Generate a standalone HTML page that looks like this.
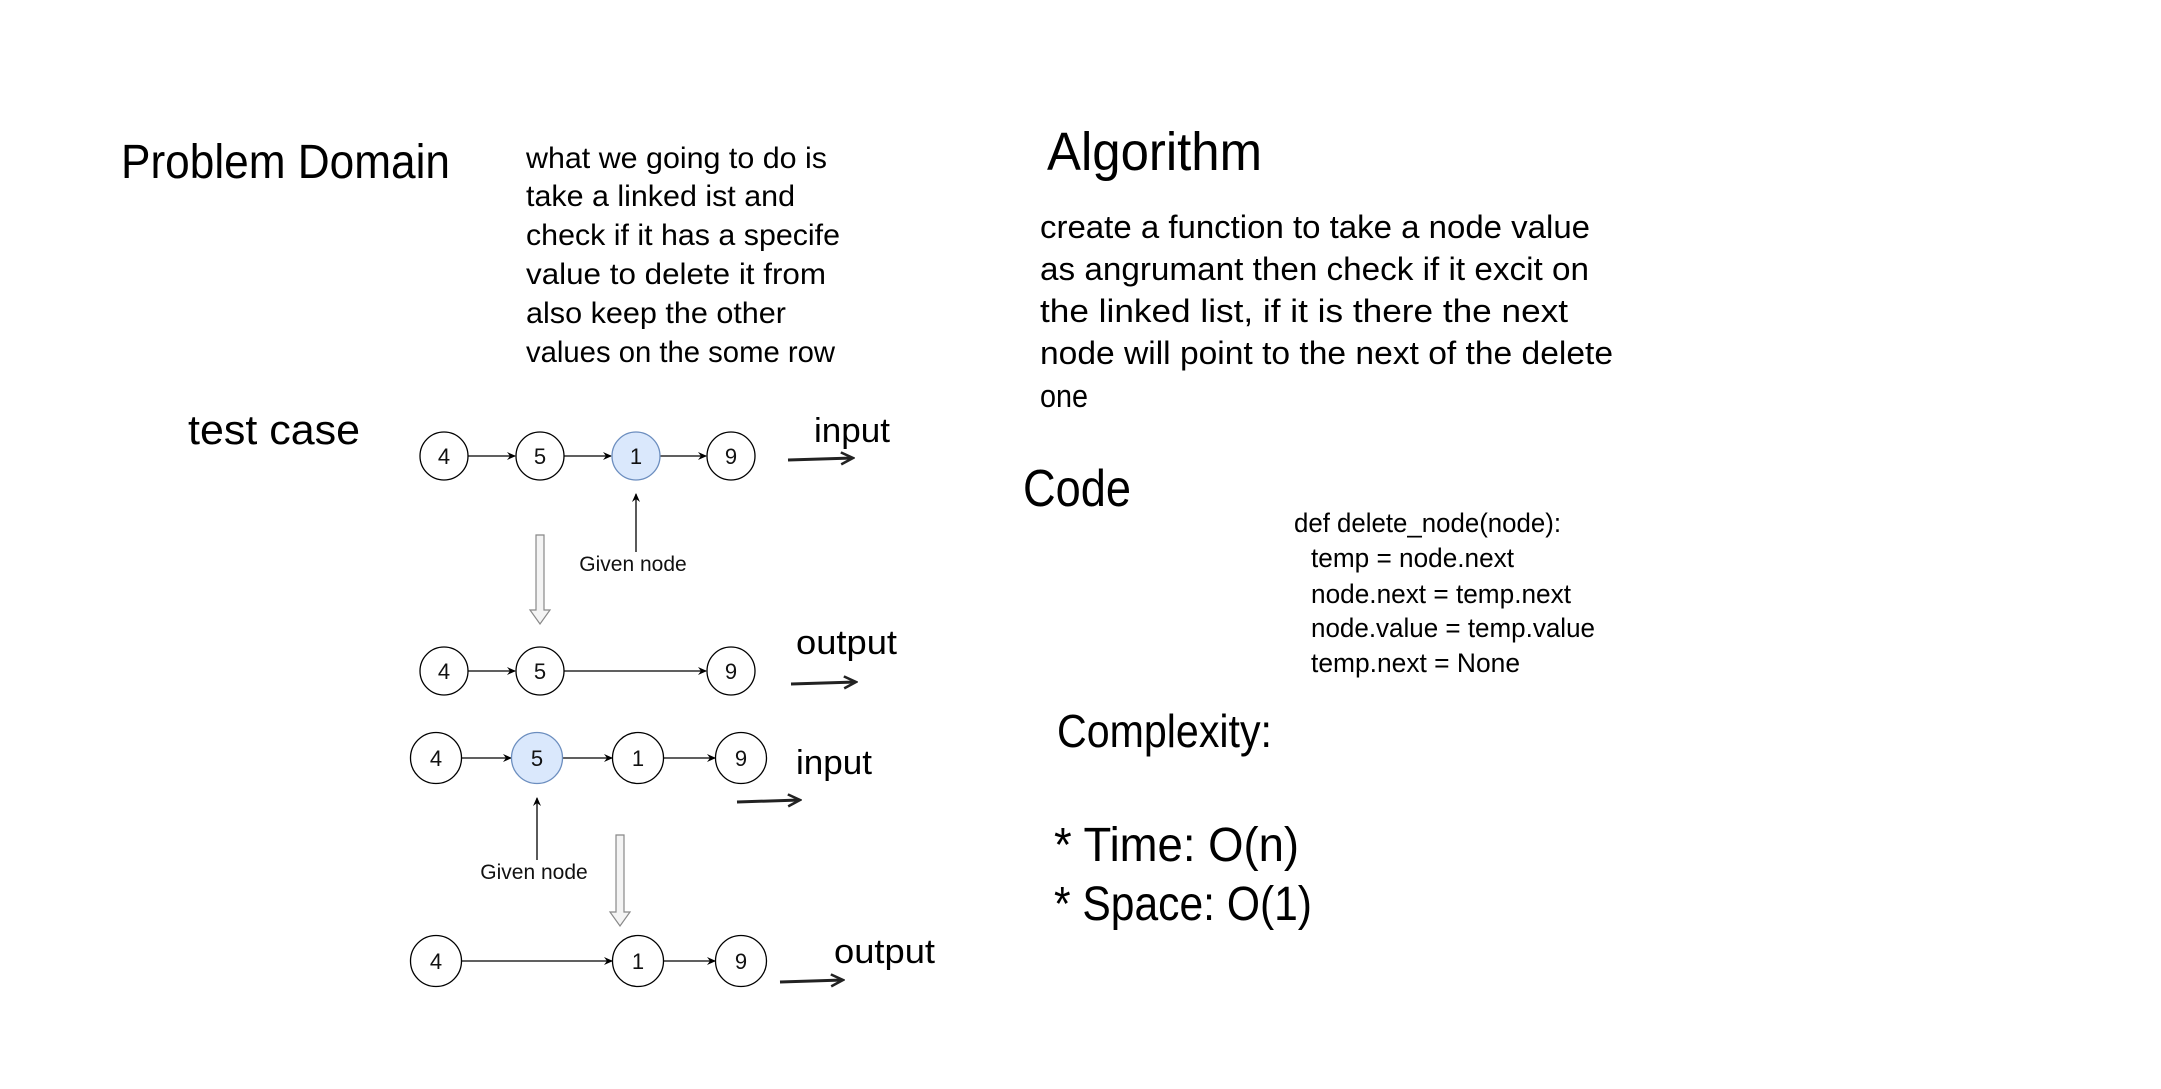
<!DOCTYPE html>
<html><head><meta charset="utf-8"><style>
html,body{margin:0;padding:0;background:#fff;}
svg{display:block;}
.h{font-family:"Liberation Sans",sans-serif;fill:#000;}
.n{font-family:"Liberation Sans",sans-serif;font-size:22px;fill:#111;text-anchor:middle;}
</style></head><body>
<svg width="2161" height="1089" viewBox="0 0 2161 1089" xmlns="http://www.w3.org/2000/svg">
<defs>
<marker id="a" markerWidth="10" markerHeight="10" refX="8" refY="5" orient="auto" markerUnits="userSpaceOnUse"><path d="M0,1 L9,5 L0,9 L3,5 Z" fill="#000"/></marker>
<marker id="b" markerWidth="16" markerHeight="14" refX="14" refY="7" orient="auto" markerUnits="userSpaceOnUse"><path d="M2,1 L14,7 L2,13" fill="none" stroke="#222" stroke-width="2.5"/></marker>
</defs>
<g transform="translate(-3,-2)">
<g class="h">
<text x="124" y="180" font-size="48" textLength="329" lengthAdjust="spacingAndGlyphs">Problem Domain</text>
<g font-size="30">
<text x="529" y="170" textLength="301" lengthAdjust="spacingAndGlyphs">what we going to do is</text>
<text x="529" y="208" textLength="269" lengthAdjust="spacingAndGlyphs">take a linked ist and</text>
<text x="529" y="247" textLength="314" lengthAdjust="spacingAndGlyphs">check if it has a specife</text>
<text x="529" y="286" textLength="300" lengthAdjust="spacingAndGlyphs">value to delete it from</text>
<text x="529" y="325" textLength="260" lengthAdjust="spacingAndGlyphs">also keep the other</text>
<text x="529" y="364" textLength="309" lengthAdjust="spacingAndGlyphs">values on the some row</text>
</g>
<text x="1050" y="172" font-size="54" textLength="215" lengthAdjust="spacingAndGlyphs">Algorithm</text>
<g font-size="32">
<text x="1043" y="240" textLength="550" lengthAdjust="spacingAndGlyphs">create a function to take a node value</text>
<text x="1043" y="282" textLength="549" lengthAdjust="spacingAndGlyphs">as angrumant then check if it excit on</text>
<text x="1043" y="324" textLength="528" lengthAdjust="spacingAndGlyphs">the linked list, if it is there the next</text>
<text x="1043" y="366" textLength="573" lengthAdjust="spacingAndGlyphs">node will point to the next of the delete</text>
<text x="1043" y="409" textLength="48" lengthAdjust="spacingAndGlyphs">one</text>
</g>
<text x="191" y="446" font-size="42" textLength="172" lengthAdjust="spacingAndGlyphs">test case</text>
<text x="1026" y="508" font-size="52" textLength="108" lengthAdjust="spacingAndGlyphs">Code</text>
<g font-size="27">
<text x="1297" y="534" textLength="267" lengthAdjust="spacingAndGlyphs">def delete_node(node):</text>
<text x="1314" y="569" textLength="203" lengthAdjust="spacingAndGlyphs">temp = node.next</text>
<text x="1314" y="605" textLength="260" lengthAdjust="spacingAndGlyphs">node.next = temp.next</text>
<text x="1314" y="639" textLength="284" lengthAdjust="spacingAndGlyphs">node.value = temp.value</text>
<text x="1314" y="674" textLength="209" lengthAdjust="spacingAndGlyphs">temp.next = None</text>
</g>
<text x="1060" y="749" font-size="46" textLength="215" lengthAdjust="spacingAndGlyphs">Complexity:</text>
<text x="1057" y="863" font-size="48" textLength="245" lengthAdjust="spacingAndGlyphs">* Time: O(n)</text>
<text x="1057" y="922" font-size="48" textLength="258" lengthAdjust="spacingAndGlyphs">* Space: O(1)</text>
<text x="817" y="444" font-size="34" textLength="76" lengthAdjust="spacingAndGlyphs">input</text>
<text x="799" y="656" font-size="34" textLength="101" lengthAdjust="spacingAndGlyphs">output</text>
<text x="799" y="776" font-size="34" textLength="76" lengthAdjust="spacingAndGlyphs">input</text>
<text x="837" y="965" font-size="34" textLength="101" lengthAdjust="spacingAndGlyphs">output</text>
</g>
<g stroke="#222" stroke-width="3" fill="none" marker-end="url(#b)">
<line x1="791" y1="462" x2="856" y2="460"/>
<line x1="794" y1="686" x2="859" y2="684"/>
<line x1="740" y1="804" x2="803" y2="802"/>
<line x1="783" y1="984" x2="846" y2="982"/>
</g>
<g stroke="#000" stroke-width="1.3" marker-end="url(#a)">
<line x1="471" y1="458" x2="518" y2="458"/>
<line x1="567" y1="458" x2="614" y2="458"/>
<line x1="663" y1="458" x2="709" y2="458"/>
<line x1="471" y1="673" x2="518" y2="673"/>
<line x1="567" y1="673" x2="709" y2="673"/>
<line x1="465" y1="760" x2="514" y2="760"/>
<line x1="566" y1="760" x2="615" y2="760"/>
<line x1="667" y1="760" x2="718" y2="760"/>
<line x1="465" y1="963" x2="615" y2="963"/>
<line x1="667" y1="963" x2="718" y2="963"/>
<line x1="639" y1="554" x2="639" y2="496"/>
<line x1="540" y1="862" x2="540" y2="800"/>
</g>
<path d="M539,537 H547 V612 H553 L543,626 L533,612 H539 Z" fill="#f4f4f4" stroke="#888" stroke-width="1.2"/>
<path d="M619,837 H627 V914 H633 L623,928 L613,914 H619 Z" fill="#f4f4f4" stroke="#888" stroke-width="1.2"/>
<g stroke="#000" stroke-width="1.3" fill="#fff">
<circle cx="447" cy="458" r="24"/><circle cx="543" cy="458" r="24"/><circle cx="639" cy="458" r="24" fill="#dae8fc" stroke="#6c8ebf"/><circle cx="734" cy="458" r="24"/>
<circle cx="447" cy="673" r="24"/><circle cx="543" cy="673" r="24"/><circle cx="734" cy="673" r="24"/>
<circle cx="439" cy="760" r="25.5"/><circle cx="540" cy="760" r="25.5" fill="#dae8fc" stroke="#6c8ebf"/><circle cx="641" cy="760" r="25.5"/><circle cx="744" cy="760" r="25.5"/>
<circle cx="439" cy="963" r="25.5"/><circle cx="641" cy="963" r="25.5"/><circle cx="744" cy="963" r="25.5"/>
</g>
<g class="n">
<text x="447" y="466">4</text><text x="543" y="466">5</text><text x="639" y="466">1</text><text x="734" y="466">9</text>
<text x="447" y="681">4</text><text x="543" y="681">5</text><text x="734" y="681">9</text>
<text x="439" y="768">4</text><text x="540" y="768">5</text><text x="641" y="768">1</text><text x="744" y="768">9</text>
<text x="439" y="971">4</text><text x="641" y="971">1</text><text x="744" y="971">9</text>
<text x="636" y="573" font-size="21">Given node</text>
<text x="537" y="881" font-size="21">Given node</text>
</g>
</g>
</svg>
</body></html>
